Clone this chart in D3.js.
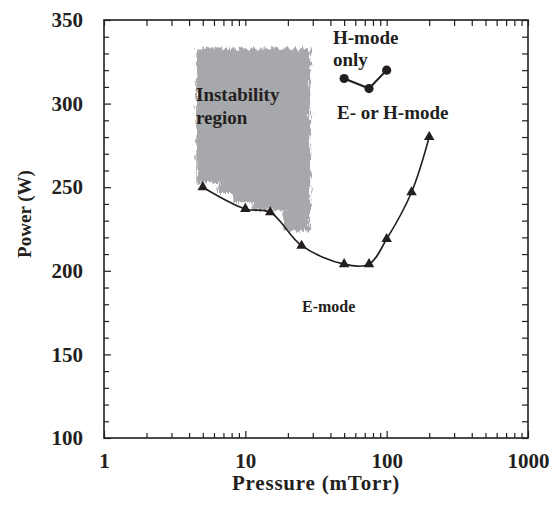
<!DOCTYPE html>
<html>
<head>
<meta charset="utf-8">
<style>
body { margin: 0; background: #fff; }
svg text { font-family: 'Liberation Serif', 'Times New Roman', serif; font-weight: bold; fill: #231f20; }
.axis .domain { display: none; }
.axis line { stroke: #231f20; stroke-width: 1.2; }
</style>
</head>
<body>
<svg width="560" height="505"></svg>
<script src="https://d3js.org/d3.v7.min.js"></script>
<script>
// E-mode / H-mode boundary (triangles)
var ehPressure = [5, 10, 15, 25, 50, 75, 100, 150, 200];
var ehPower    = [250, 237, 235, 215, 204, 204, 219, 247, 280];

// H-mode only points (circles)
var hPressure = [50, 75, 100];
var hPower    = [315, 309, 320];

// instability region outline (pressure, power)
var instPressure = [4.5, 4.5, 28.8, 28.8, 18.6, 18.6, 11.2, 11.2, 8.1, 8.1, 6.45, 6.45, 5.0, 5.0];
var instPower    = [333, 252, 333, 224, 224, 236, 236, 241, 241, 246.5, 246.5, 253, 253, 251];

var xTicks = [1, 10, 100, 1000];
var yTicks = [100, 150, 200, 250, 300, 350];

var svg = d3.select("svg"),
    margin = {top: 20, right: 32, bottom: 67, left: 104},
    width = +svg.attr("width") - margin.left - margin.right,
    height = +svg.attr("height") - margin.top - margin.bottom,
    g = svg.append("g").attr("transform", "translate(" + margin.left + "," + margin.top + ")");

var x = d3.scaleLog().domain([1, 1000]).range([0, width]);
var y = d3.scaleLinear().domain([100, 350]).range([height, 0]);

// minor tick values
var xMinor = [];
[1, 10, 100].forEach(function(d) { for (var k = 2; k <= 9; k++) xMinor.push(d * k); });
var yMinor = d3.range(100, 351, 10).filter(function(v) { return v % 50 != 0; });

// rough edge filter for the instability blob
var defs = svg.append("defs");
var filt = defs.append("filter").attr("id", "rough")
    .attr("x", "-20%").attr("y", "-20%").attr("width", "140%").attr("height", "140%");
filt.append("feTurbulence").attr("type", "fractalNoise")
    .attr("baseFrequency", "0.45 0.12").attr("numOctaves", 2).attr("seed", 3).attr("result", "n");
filt.append("feDisplacementMap").attr("in", "SourceGraphic").attr("in2", "n")
    .attr("scale", 9).attr("xChannelSelector", "R").attr("yChannelSelector", "G");

var inst = instPressure.map(function(p, i) { return [x(p), y(instPower[i])]; });
// reorder outline: top-left, top-right, down right side, steps back to left
var instOrder = [0, 2, 3, 4, 5, 6, 7, 8, 9, 10, 11, 12, 13, 1];
g.append("path")
    .attr("d", "M" + instOrder.map(function(i) { return inst[i].join(","); }).join("L") + "Z")
    .attr("fill", "#a7a8ab")
    .attr("filter", "url(#rough)");

// frame
g.append("rect")
    .attr("width", width).attr("height", height)
    .attr("fill", "none").attr("stroke", "#231f20").attr("stroke-width", 1.6);

// axes
g.append("g").attr("class", "axis").attr("transform", "translate(0," + height + ")")
    .call(d3.axisBottom(x).tickValues(xTicks).tickFormat(d3.format("d"))
        .tickSize(-7).tickSizeOuter(0).tickPadding(15))
    .selectAll("text").style("font-size", "21px");
g.append("g").attr("class", "axis").attr("transform", "translate(0," + height + ")")
    .call(d3.axisBottom(x).tickValues(xMinor).tickFormat("").tickSize(-5).tickSizeOuter(0));
g.append("g").attr("class", "axis")
    .call(d3.axisTop(x).tickValues(xTicks.concat(xMinor)).tickFormat("").tickSize(-6).tickSizeOuter(0));

g.append("g").attr("class", "axis")
    .call(d3.axisLeft(y).tickValues(yTicks).tickSize(-7).tickSizeOuter(0).tickPadding(21))
    .selectAll("text").style("font-size", "21px");
g.append("g").attr("class", "axis")
    .call(d3.axisLeft(y).tickValues(yMinor).tickFormat("").tickSize(-5).tickSizeOuter(0));
g.append("g").attr("class", "axis").attr("transform", "translate(" + width + ",0)")
    .call(d3.axisRight(y).tickValues(yTicks.concat(yMinor)).tickFormat("").tickSize(-6).tickSizeOuter(0));

// E/H boundary curve
var eh = ehPressure.map(function(p, i) { return [x(p), y(ehPower[i])]; });
g.append("path")
    .attr("d", d3.line().curve(d3.curveCatmullRom.alpha(0.5))(eh))
    .attr("fill", "none").attr("stroke", "#231f20").attr("stroke-width", 1.6);
g.selectAll(".tri").data(eh).enter().append("path")
    .attr("class", "tri")
    .attr("transform", function(d) { return "translate(" + d[0] + "," + d[1] + ")"; })
    .attr("d", d3.symbol(d3.symbolTriangle, 48))
    .attr("fill", "#231f20");

// H-mode only
var hm = hPressure.map(function(p, i) { return [x(p), y(hPower[i])]; });
g.append("path")
    .attr("d", d3.line()(hm))
    .attr("fill", "none").attr("stroke", "#231f20").attr("stroke-width", 2);
g.selectAll(".dot").data(hm).enter().append("circle")
    .attr("class", "dot")
    .attr("cx", function(d) { return d[0]; })
    .attr("cy", function(d) { return d[1]; })
    .attr("r", 4.6)
    .attr("fill", "#231f20");

// annotations
function label(txt, px, py, size) {
  svg.append("text").attr("x", px).attr("y", py).style("font-size", size + "px").text(txt);
}
label("Instability", 196, 101, 19);
label("region", 196, 124, 19);
label("H-mode", 333, 44, 19);
label("only", 333, 66, 19);
label("E- or H-mode", 337, 119, 19);
label("E-mode", 302, 312, 16);

// axis titles
svg.append("text")
    .attr("x", margin.left + width / 2).attr("y", 490)
    .style("text-anchor", "middle").style("font-size", "21px").style("letter-spacing", "0.8px")
    .text("Pressure (mTorr)");
svg.append("text")
    .attr("transform", "translate(31,214) rotate(-90)")
    .style("text-anchor", "middle").style("font-size", "19px")
    .text("Power (W)");
</script>
</body>
</html>
